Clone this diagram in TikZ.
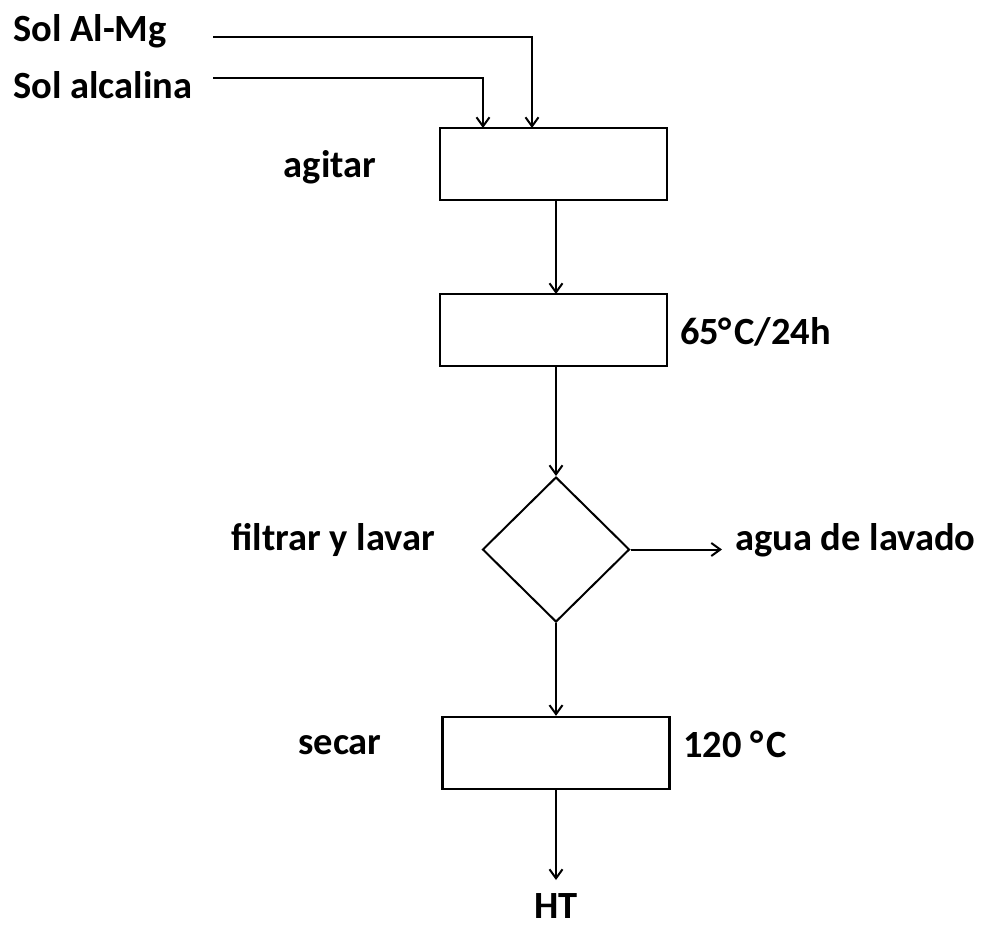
\documentclass[tikz,border=0pt]{standalone}
\usepackage{fontspec}
\setmainfont{Carlito}
\usetikzlibrary{shapes.geometric,arrows.meta}
\begin{document}
\begin{tikzpicture}[x=1pt,y=-1pt,
  box/.style={draw,line width=2.4pt,minimum width=227pt,minimum height=72pt,inner sep=0pt},
  dia/.style={draw,line width=2pt,diamond,minimum width=147pt,minimum height=145pt,inner sep=0pt,aspect=1},
  lbl/.style={font=\bfseries\fontsize{38.5}{44}\selectfont,inner sep=0pt},
  con/.style={line width=2pt,-{Straight Barb[length=9pt,width=13pt,line width=2pt]}}]
\useasboundingbox (0,0) rectangle (987,930);
\node[box] (b1) at (553.5,164) {};
\node[box] (b2) at (553.5,330) {};
\node[dia] (d) at (556,549.5) {};
\node[box] (b3) at (556,753) {};
\node[lbl,anchor=west] (almg) at (13,31) {Sol Al-Mg};
\node[lbl,anchor=west] (alc) at (13,85) {Sol alcalina};
\coordinate (almgs) at (213,37);
\coordinate (alcs) at (213,78);
\node[lbl] (agitar) at (330,167) {agitar};
\node[lbl,anchor=west] (t65) at (680,332) {65\kern-1pt°\kern3pt C/24h};
\node[lbl,anchor=east] (filt) at (435,540) {filtrar y lavar};
\node[lbl,anchor=west] (agua) at (735,540) {agua de lavado};
\node[lbl] (secar) at (340,745) {secar};
\node[lbl,anchor=west] (t120) at (683,744) {120 °\kern3pt C};
\node[lbl] (ht) at (556,906) {HT};
\coordinate (htin) at (556,880);
\coordinate (aguain) at (722,549.5);
\draw[con] (almgs) -| (532,128);
\draw[con] (alcs) -| (483,128);
\draw[con] (556,200) -- (556,294);
\draw[con] (556,366) -- (d.north);
\draw[con] (d.east) -- (aguain);
\draw[con] (d.south) -- (b3.north);
\draw[con] (b3.south) -- (htin);
\end{tikzpicture}
\end{document}
